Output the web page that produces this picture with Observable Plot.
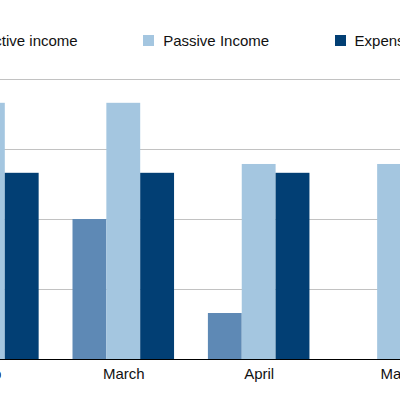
<!DOCTYPE html>
<html>
<head>
<meta charset="utf-8">
<script src="https://cdn.jsdelivr.net/npm/d3@7"></script>
<script src="https://cdn.jsdelivr.net/npm/@observablehq/plot@0.6"></script>
<style>
  html, body { margin: 0; padding: 0; background: #fff; }
  #wrap { position: relative; width: 400px; height: 399px; overflow: hidden; font-family: "Liberation Sans", Arial, sans-serif; }
  #legend { position: absolute; top: 31.6px; left: -35.7px; display: flex; white-space: nowrap; font-size: 15px; line-height: 17px; color: #111; }
  .item { display: flex; align-items: center; margin-right: 65.5px; }
  .sw { width: 11px; height: 11px; margin-right: 9px; }
  #chart { position: absolute; left: 0; top: 0; }
</style>
</head>
<body>
<div id="wrap"><div id="chart"></div><div id="legend"></div></div>
<script>
const months = ["Feb", "March", "April", "May"];
const series = ["Active income", "Passive Income", "Expenses"];
const colors = ["#5e89b5", "#a4c6e0", "#023f74"];
const active = [1500, 2000, 657, 0];
const passive = [3660, 3660, 2786, 2786];
const expenses = [2660, 2660, 2660, 2660];
const yTicks = [1000, 2000, 3000, 4000];

const values = [active, passive, expenses];
const data = [];
months.forEach((m, i) => series.forEach((s, j) => data.push({month: m, series: s, key: m + "|" + s, value: values[j][i]})));
const keys = months.flatMap(m => [...series.map(s => m + "|" + s), m + "|gap"]);

const slot = 33.85;
const x0 = -62.9;

const chart = Plot.plot({
  width: 400,
  height: 399,
  marginTop: 79,
  marginBottom: 40,
  marginLeft: 0,
  marginRight: 0,
  style: {fontFamily: "Liberation Sans, Arial, sans-serif", fontSize: "15px", background: "transparent", color: "#111"},
  x: {type: "band", domain: keys, range: [x0, x0 + keys.length * slot], padding: 0, round: false, axis: null},
  y: {domain: [0, 4000], axis: null},
  color: {domain: series, range: colors},
  marks: [
    Plot.ruleY(yTicks, {stroke: "#c2c2c2", strokeWidth: 1}),
    Plot.barY(data, {x: "key", y: "value", fill: "series", inset: 0}),
    Plot.ruleY([0], {stroke: "#000", strokeWidth: 1}),
    Plot.text(months, {x: d => d + "|Passive Income", frameAnchor: "bottom", lineAnchor: "top", dy: 8.5, text: d => d, fill: "#111", fontSize: 15})
  ]
});
document.getElementById("chart").appendChild(chart);

const legend = d3.select("#legend");
series.forEach((s, i) => {
  const it = legend.append("div").attr("class", "item");
  it.append("div").attr("class", "sw").style("background", colors[i]);
  it.append("span").text(s);
});
</script>
</body>
</html>
